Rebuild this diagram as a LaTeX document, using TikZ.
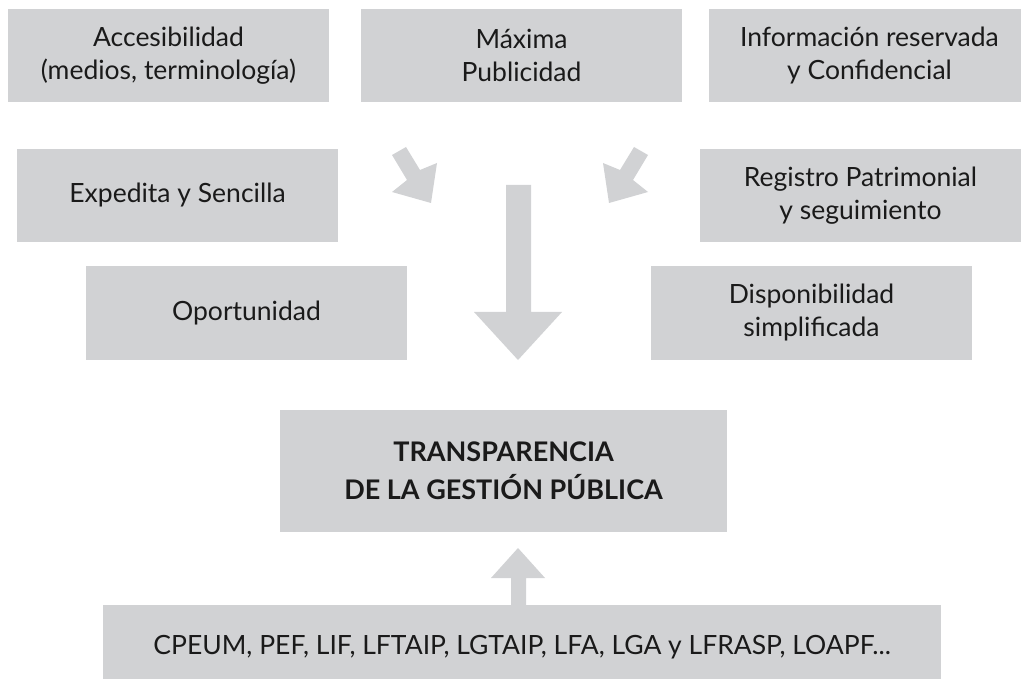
\documentclass[tikz,border=0pt]{standalone}
\usepackage{fontspec}
\setmainfont{Lato}
\definecolor{boxgray}{HTML}{D1D2D4}
\definecolor{txt}{HTML}{1A1A1A}
\tikzset{
  gbox/.style={rectangle, fill=boxgray, draw=none, inner sep=0pt, align=center,
    text=txt, font=\fontsize{26.5}{33}\selectfont},
  smallbox/.style={gbox, minimum width=321pt, minimum height=93pt},
  blockarrow/.style={fill=boxgray, draw=none}
}
\begin{document}
\begin{tikzpicture}[x=1pt,y=-1pt]
\useasboundingbox (0,0) rectangle (1021,679);
\node[smallbox] (acc) at (168.5,55.5) {Accesibilidad\\(medios, terminología)};
\node[smallbox] (max) at (521.5,55.5) {Máxima\\Publicidad};
\node[smallbox] (inf) at (869.5,55.5) {Información reservada\\y Confidencial};
\node[smallbox] (exp) at (177.5,195.5) {Expedita y Sencilla};
\node[smallbox] (reg) at (860.5,195.5) {Registro Patrimonial\\y seguimiento};
\node[smallbox] (opo) at (246.5,313) {Oportunidad};
\node[smallbox] (dis) at (811.5,313) {Disponibilidad\\simplificada};
\node[gbox, minimum width=447pt, minimum height=122pt, font=\bfseries\fontsize{27}{38}\selectfont] (tra) at (503.5,471) {TRANSPARENCIA\\DE LA GESTIÓN PÚBLICA};
\node[gbox, minimum width=838pt, minimum height=84pt] (cpe) at (522,647) {CPEUM, PEF, LIF, LFTAIP, LGTAIP, LFA, LGA y LFRASP, LOAPF...};
% big down arrow
\fill[blockarrow] (506,185) -- (531,185) -- (531,312) -- (562,312) -- (518,360) -- (474,312) -- (506,312) -- cycle;
% up arrow
\fill[blockarrow] (511,605) -- (511,578) -- (491,578) -- (518,548) -- (545,578) -- (526,578) -- (526,605) -- cycle;
% small left arrow (pointing down-right)
\fill[blockarrow] (392,155) -- (406,147) -- (420,170) -- (437,163) -- (431,203) -- (392,192) -- (407,180) -- cycle;
% small right arrow (pointing down-left)
\fill[blockarrow] (648,155) -- (634,147) -- (620,170) -- (603,163) -- (609,203) -- (648,192) -- (633,180) -- cycle;
\end{tikzpicture}
\end{document}
